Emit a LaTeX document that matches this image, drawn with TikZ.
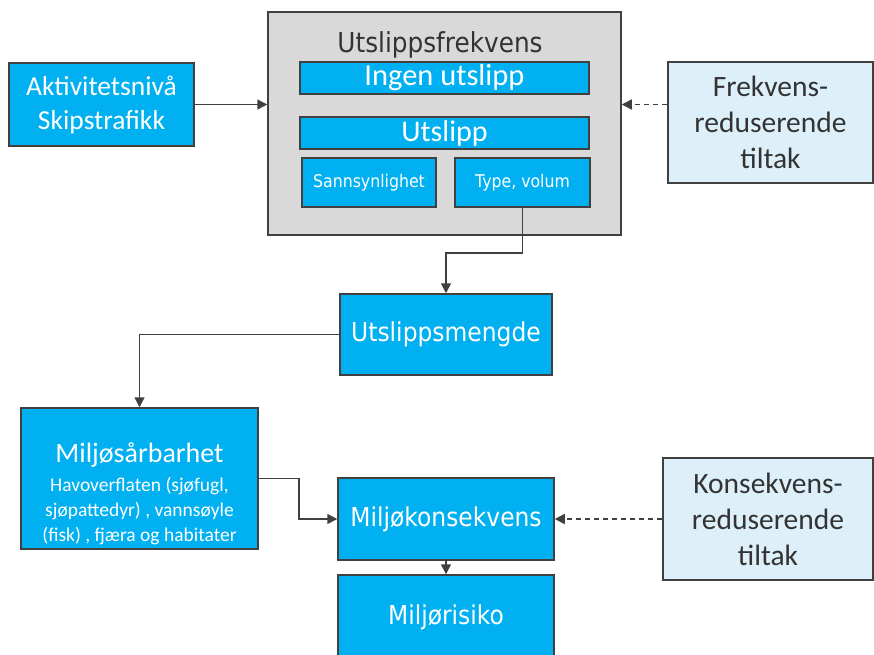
\documentclass[tikz,border=0pt]{standalone}
\usepackage{fontspec}
\usetikzlibrary{arrows.meta,calc}
\newfontfamily\calfont{Carlito}
\newfontfamily\tahfont{DejaVu Sans}[FakeStretch=0.9]
\definecolor{bluebox}{HTML}{00B0F0}
\definecolor{lightbox}{HTML}{DDF0FA}
\definecolor{greybox}{HTML}{D9D9D9}
\definecolor{edge}{HTML}{404040}
\definecolor{darktext}{HTML}{333333}
\tikzset{
  box/.style={draw=edge, line width=1.5pt, rectangle, inner sep=0pt, align=center},
  bbox/.style={box, fill=bluebox, text=white},
  lbox/.style={box, fill=lightbox, text=darktext},
  conn/.style={draw=edge, line width=1.5pt, -{Triangle[length=10pt,width=10pt]}},
  dconn/.style={conn, dash pattern=on 5pt off 4pt}
}
\begin{document}
\begin{tikzpicture}[x=1pt,y=-1pt]
\useasboundingbox (0,0) rectangle (874,654);
% grey container
\node[box, fill=greybox, minimum width=353pt, minimum height=223pt] (grey) at (444.5,123.5) {};
\node[text=darktext, font=\tahfont\fontsize{27.5}{30}\selectfont, inner sep=0pt] (title) at (440,45) {Utslippsfrekvens};
\node[bbox, minimum width=289pt, minimum height=32pt, font=\calfont\fontsize{30.5}{32}\selectfont] (ingen) at (444.5,78) {Ingen utslipp};
\node[bbox, minimum width=289pt, minimum height=32pt, font=\calfont\fontsize{30}{32}\selectfont] (uts) at (444.5,133) {Utslipp};
\node[bbox, minimum width=134pt, minimum height=49pt, font=\tahfont\fontsize{17.5}{19}\selectfont] (sann) at (369,182.5) {Sannsynlighet};
\node[bbox, minimum width=135pt, minimum height=49pt, font=\tahfont\fontsize{17.5}{19}\selectfont] (type) at (522.5,182.5) {Type, volum};
% left input
\node[bbox, minimum width=185pt, minimum height=83pt, font=\calfont\fontsize{27.5}{34}\selectfont] (akt) at (101.5,104.5) {Aktivitetsnivå\\Skipstrafikk};
% right measures
\node[lbox, minimum width=205pt, minimum height=121pt, font=\calfont\fontsize{29.5}{36}\selectfont] (frek) at (770.5,122.5) {Frekvens-\\reduserende\\tiltak};
\node[lbox, minimum width=210pt, minimum height=122pt, font=\calfont\fontsize{29.5}{36}\selectfont] (kons) at (768,519) {Konsekvens-\\reduserende\\tiltak};
% middle column
\node[bbox, minimum width=212pt, minimum height=81pt, font=\tahfont\fontsize{26}{30}\selectfont] (mengde) at (446,334.5) {Utslippsmengde};
\node[bbox, minimum width=216pt, minimum height=82pt, font=\tahfont\fontsize{26}{30}\selectfont] (konsek) at (446,519) {Miljøkonsekvens};
\node[bbox, minimum width=216pt, minimum height=95pt] (risiko) at (446,622.5) {};
\node[text=white, font=\tahfont\fontsize{26}{30}\selectfont, inner sep=0pt] (risikotxt) at (446,617) {Miljørisiko};
% vulnerability
\node[bbox, minimum width=237pt, minimum height=141pt] (sarb) at (139.5,478.5) {};
\node[text=white, font=\calfont\fontsize{28}{30}\selectfont, inner sep=0pt] (sarbtitle) at (139.5,455) {Miljøsårbarhet};
\node[text=white, font=\calfont\fontsize{19.5}{25}\selectfont, inner sep=0pt, align=center] (sarbtxt) at (139.5,511) {Havoverflaten (sjøfugl,\\sjøpattedyr) , vannsøyle\\(fisk) , fjæra og habitater};
% connectors
\draw[conn] (akt.east) -- (akt.east -| grey.west);
\draw[dconn] (frek.west |- akt.east) -- (grey.east |- akt.east);
\draw[conn] (type.south) -- ++(0,45) -| (mengde.north);
\draw[conn] (mengde.west) -| (sarb.north);
\draw[conn] (sarb.east) -- ++(40,0) |- (konsek.west);
\draw[conn] (konsek.south) -- (risiko.north);
\draw[dconn] (kons.west) -- (konsek.east);
\end{tikzpicture}
\end{document}
